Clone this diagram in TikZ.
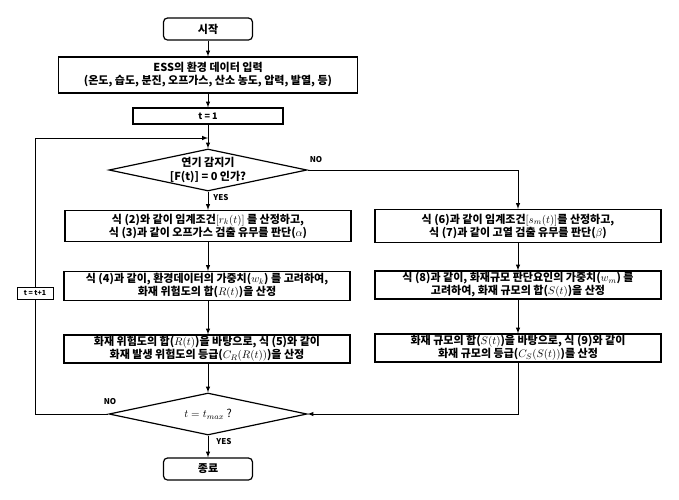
\documentclass[tikz,border=0pt]{standalone}
\usepackage{fontspec}
\setmainfont{Noto Sans CJK KR}
\usetikzlibrary{shapes.geometric}
\tikzset{
  procbox/.style={draw, line width=1.2pt, align=center, inner sep=1pt, minimum width=286pt, minimum height=30pt, font=\bfseries\fontsize{11}{13}\selectfont},
  termbox/.style={draw, line width=1.2pt, rounded corners=4pt, minimum width=89pt, minimum height=22pt, font=\bfseries\fontsize{11}{13}\selectfont},
  decision/.style={diamond, draw, line width=1.2pt, aspect=4.7, inner sep=0pt, minimum width=198pt, minimum height=42pt, align=center, font=\bfseries\fontsize{11}{14}\selectfont},
  flowlabel/.style={font=\bfseries\fontsize{8}{9}\selectfont, inner sep=1pt}
}
\begin{document}
\begin{tikzpicture}[x=1pt,y=-1pt,>=latex,line width=1pt]
        \useasboundingbox (0,0) rectangle (679,499);
        %terminals
        \node[termbox] (start) at (208,29) {시작};
        \node[termbox] (stop) at (208,469) {종료};
        %input and counter
        \node[procbox, minimum width=299pt, minimum height=36pt] (ess) at (208,75) {ESS의 환경 데이터 입력\\(온도, 습도, 분진, 오프가스, 산소 농도, 압력, 발열, 등)};
        \node[procbox, minimum width=150pt, minimum height=16pt, font=\bfseries\fontsize{9}{10}\selectfont] (init) at (208,116) {t = 1};
        %decisions
        \node[decision] (smoke) at (208,170) {연기 감지기\\{[F(t)] = 0 인가?}};
        \node[decision, font=\fontsize{11}{13}\selectfont] (tmax) at (208,414) {$t = t_{max}$ ?};
        %left column
        \node[procbox, minimum height=31pt] (lb1) at (208,226) {식 (2)와 같이 임계조건$[r_k(t)]$ 를 산정하고,\\식 (3)과 같이 오프가스 검출 유무를 판단($\alpha$)};
        \node[procbox, minimum height=29pt] (lb2) at (207,286) {식 (4)과 같이, 환경데이터의 가중치($w_k$) 를 고려하여,\\화재 위험도의 합($R(t)$)을 산정};
        \node[procbox, minimum height=28pt] (lb3) at (207,349) {화재 위험도의 합($R(t)$)을 바탕으로, 식 (5)와 같이\\화재 발생 위험도의 등급($C_R(R(t))$)을 산정};
        %right column
        \node[procbox, minimum height=33pt] (rb1) at (518,226) {식 (6)과 같이 임계조건$[s_m(t)]$를 산정하고,\\식 (7)과 같이 고열 검출 유무를 판단($\beta$)};
        \node[procbox, minimum height=28pt] (rb2) at (518,285) {식 (8)과 같이, 화재규모 판단요인의 가중치($w_m$) 를\\고려하여, 화재 규모의 합($S(t)$)을 산정};
        \node[procbox, minimum height=28pt] (rb3) at (518,348) {화재 규모의 합($S(t)$)을 바탕으로, 식 (9)와 같이\\화재 규모의 등급($C_S(S(t))$)를 산정};
        %loop counter
        \node[draw, line width=0.8pt, fill=white, inner sep=0pt, minimum width=36pt, minimum height=12pt, font=\bfseries\fontsize{7}{8}\selectfont] (tinc) at (35,293) {t = t+1};
        %bends
        \coordinate (join) at (208,138);
        \coordinate (noturn) at (518,170);
        \coordinate (rturn) at (518,414);
        \coordinate (loopb) at (35,414);
        \coordinate (loopt) at (35,138);
        %arrows
        \draw[->] (start) -- (ess);
        \draw[->] (ess) -- (init);
        \draw[->] (init) -- (smoke);
        \draw[->] (smoke) -- (lb1);
        \draw[->] (lb1.south) -- (lb1.south |- lb2.north);
        \draw[->] (lb2.south -| lb1.south) -- (lb1.south |- lb3.north);
        \draw[->] (lb3.south -| lb1.south) -- (tmax);
        \draw[->] (smoke.east) -- (noturn) -- (rb1);
        \draw[->] (rb1) -- (rb2);
        \draw[->] (rb2) -- (rb3);
        \draw[->] (rb3) -- (rturn) -- (tmax.east);
        \draw[->] (tmax) -- (stop);
        \draw[->] (tmax.west) -- (loopb) -- (tinc) -- (loopt) -- (join);
        %labels
        \node[flowlabel] (no1) at (316,160) {NO};
        \node[flowlabel] (yes1) at (221,198) {YES};
        \node[flowlabel] (no2) at (110,402) {NO};
        \node[flowlabel] (yes2) at (224,442) {YES};
\end{tikzpicture}
\end{document}
